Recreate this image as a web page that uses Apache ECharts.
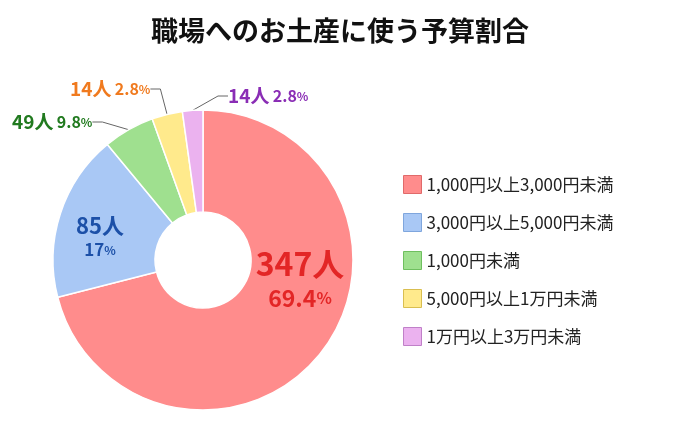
<!DOCTYPE html>
<html><head><meta charset="utf-8">
<script src="https://cdn.jsdelivr.net/npm/echarts@6/dist/echarts.min.js"></script>
<style>body{margin:0}#c{width:680px;height:430px}</style></head>
<body><div id="c"></div>
<script>
const categories=['1,000円以上3,000円未満','3,000円以上5,000円未満','1,000円未満','5,000円以上1万円未満','1万円以上3万円未満'];
const counts=[347,85,49,14,14];
const percents=['69.4','17','9.8','2.8','2.8'];
const sliceShares=[71,18,5.5,3.3,2.2];
const colors=['#FF8C8C','#A9C8F5','#9FE08F','#FFEA8C','#EBB2EF'];
const borders=['#E06A6A','#7FA6DD','#6FBF5F','#D9BE50','#C080C8'];
const labelColors=['#E32626','#1C50A8','#217A1F','#F07A1E','#8A2DB5'];
const F='"Noto Sans CJK JP","Noto Sans",sans-serif';
const labelPos=[{x:300,y:275,align:'center'},{x:100,y:234,align:'center'},{x:12,y:122,align:'left'},{x:70,y:89,align:'left'},{x:228,y:96,align:'left'}];
const data=categories.map((n,i)=>{
  const inside=i<2;
  const big=i===0;
  return {name:n,value:sliceShares[i],itemStyle:{color:colors[i]},
    label:inside?{position:'inside',formatter:'{a|'+counts[i]+'人}\n{b|'+percents[i]+'}{c|%}',
      rich:{a:{fontSize:big?32:22,fontWeight:'bold',color:labelColors[i],fontFamily:F,lineHeight:big?46:32},
            b:{fontSize:big?23:17,fontWeight:'bold',color:labelColors[i],fontFamily:F},
            c:{fontSize:big?16:12,fontWeight:'bold',color:labelColors[i],fontFamily:F}}}
     :{position:'outside',overflow:'none',formatter:'{a|'+counts[i]+'人} {b|'+percents[i]+'}{c|%}',
      rich:{a:{fontSize:19,fontWeight:'bold',color:labelColors[i],fontFamily:F},
            b:{fontSize:16,fontWeight:'bold',color:labelColors[i],fontFamily:F},
            c:{fontSize:12,fontWeight:'bold',color:labelColors[i],fontFamily:F}}},
    labelLine:{show:!inside,lineStyle:{color:'#666',width:1}}};
});
const chart=echarts.init(document.getElementById('c'));
chart.setOption({
  title:{text:'職場へのお土産に使う予算割合',left:'center',top:12,textStyle:{fontSize:27,fontWeight:'bold',color:'#111',fontFamily:F}},
  legend:{orient:'vertical',left:398,top:170,itemWidth:18,itemHeight:18,itemGap:19,icon:'rect',
    textStyle:{fontSize:17,color:'#222',fontFamily:F},
    data:categories.map((n,i)=>({name:n,itemStyle:{borderColor:borders[i],borderWidth:1}}))},
  series:[{type:'pie',center:[203,260],radius:[48,150],startAngle:90,clockwise:true,
    itemStyle:{borderColor:'#fff',borderWidth:1.5},
    labelLine:{length:12,length2:10},
    labelLayout:p=>{const l=labelPos[p.dataIndex];return {x:l.x,y:l.y,align:l.align,verticalAlign:'middle'};},
    data:data}]
});
</script></body></html>
